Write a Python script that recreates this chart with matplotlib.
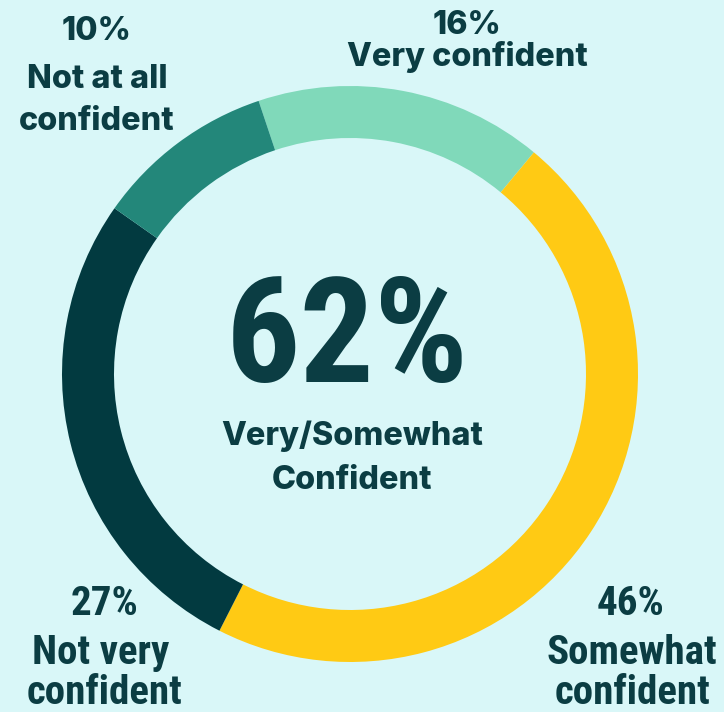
import matplotlib
matplotlib.use("Agg")
import matplotlib.pyplot as plt

# confidence shares, clockwise from the top
labels = ["Very confident", "Somewhat confident", "Not very confident", "Not at all confident"]
values = [16, 46, 27, 10]
colors = ["#80D9BA", "#FFCA14", "#023A40", "#23877A"]
headline = "62%"
headline_label = "Very/Somewhat\nConfident"

bg = "#D9F7F8"
ink = "#0B3D43"
W, H = 724, 712

fig = plt.figure(figsize=(W / 100, H / 100), dpi=100, facecolor=bg)
ax = fig.add_axes([0, 0, 1, 1])
ax.set_facecolor(bg)

# pixel coordinates, y up
cx, cy, r = 350, H - 374, 288
ax.pie(values, colors=colors, startangle=108.5, counterclock=False,
       center=(cx, cy), radius=r,
       wedgeprops=dict(width=52, linewidth=0))
ax.set_xlim(0, W)
ax.set_ylim(0, H)
ax.set_aspect("auto")
ax.axis("off")

inter = ["Inter", "DejaVu Sans"]
cond = ["Roboto Condensed", "Liberation Sans Narrow", "DejaVu Sans"]

def label(x, y, s, fam, size, weight=800):
    ax.text(x, H - y, s, ha="center", va="center", fontsize=size,
            fontweight=weight, color=ink, family=fam)

# top labels
label(97, 32, f"{values[3]}%", inter, 23.3)
label(97, 79, "Not at all", inter, 23.3)
label(97, 121, "confident", inter, 23.3)
label(467, 26, f"{values[0]}%", inter, 23.3)
label(467, 57, "Very confident", inter, 23.3)

# bottom labels
label(104, 604, f"{values[2]}%", cond, 29.5, "bold")
label(101, 653, "Not very", cond, 29.5, "bold")
label(104, 693, "confident", cond, 29.5, "bold")
label(631, 604, f"{values[1]}%", cond, 29.5, "bold")
label(632, 653, "Somewhat", cond, 29.5, "bold")
label(632, 693, "confident", cond, 29.5, "bold")

# centre
label(347, 342, headline, cond, 106, "bold")
ax.text(352, H - 458, headline_label, ha="center", va="center", fontsize=23.3,
        fontweight=800, color=ink, family=inter, linespacing=1.55)

fig.savefig("out.png", dpi=100, facecolor=bg)
